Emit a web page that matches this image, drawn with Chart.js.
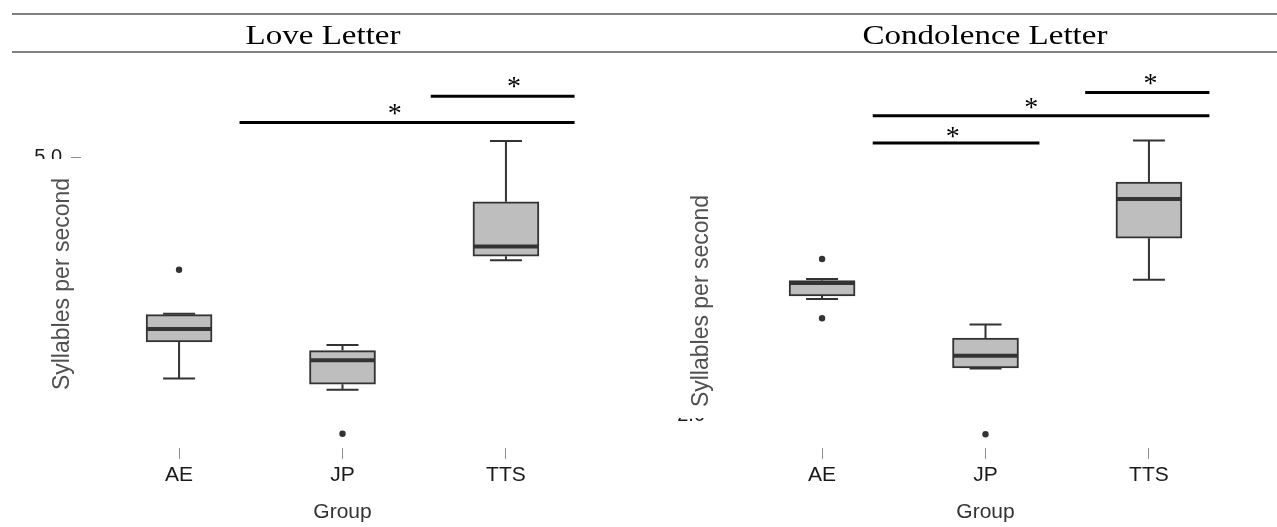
<!DOCTYPE html>
<html>
<head>
<meta charset="utf-8">
<script src="https://cdn.jsdelivr.net/npm/chart.js@4.4.0/dist/chart.umd.min.js"></script>
<style>
  html, body { margin: 0; padding: 0; background: #fff; overflow: hidden; }
  #page { position: relative; width: 1277px; height: 527px; overflow: hidden; }
  canvas { position: absolute; top: 0; }
  .rule { position: absolute; left: 12px; right: 0; height: 2px; background: #808080; }
  .panelTitle {
    position: absolute; top: 21px; transform: translateX(-50%) scaleX(1.18); white-space: nowrap;
    font-family: "Liberation Serif", "Times New Roman", serif; font-size: 28px; line-height: 28px; color: #000;
  }
</style>
</head>
<body>
<div id="page">
  <canvas id="chartLove" width="640" height="527" style="left:0"></canvas>
  <canvas id="chartCondolence" width="640" height="527" style="left:643px"></canvas>
  <div class="rule" style="top:13px"></div>
  <div class="rule" style="top:51px"></div>
  <div class="panelTitle" style="left:323px">Love Letter</div>
  <div class="panelTitle" style="left:985px">Condolence Letter</div>
</div>
<script>
const groups = ["AE", "JP", "TTS"];
const yTicks = [2, 5];
const yTitle = "Syllables per second";
const xTitle = "Group";

// Love Letter - syllables per second (whisker low, Q1, median, Q3, whisker high)
const loveLow = [2.23, 2.09, 3.71];
const loveQ1 = [2.69, 2.16, 3.76];
const loveMedian = [2.85, 2.46, 3.88];
const loveQ3 = [3.03, 2.58, 4.44];
const loveHigh = [3.04, 2.65, 5.20];
const loveOutlierGroup = [0, 1];
const loveOutlierValue = [3.59, 1.54];
// significance brackets (group units) and their stars
const loveSigFrom = [1.54, 0.37];
const loveSigTo = [2.42, 2.42];
const loveSigY = [5.76, 5.43];
const loveStarX = [2.05, 1.32];
const loveStarY = [5.93, 5.59];

// Condolence Letter
const condLow = [3.45, 2.58, 3.69];
const condQ1 = [3.49, 2.59, 4.21];
const condMedian = [3.65, 2.74, 4.70];
const condQ3 = [3.68, 2.96, 4.91];
const condHigh = [3.70, 3.13, 5.43];
const condOutlierGroup = [0, 0, 1];
const condOutlierValue = [3.95, 3.21, 1.76];
const condSigFrom = [1.61, 0.31, 0.31];
const condSigTo = [2.37, 2.37, 1.33];
const condSigY = [6.03, 5.74, 5.40];
const condStarX = [2.01, 1.28, 0.80];
const condStarY = [6.19, 5.89, 5.53];

const SANS = "'Liberation Sans', Arial, sans-serif";
const SERIF = "'Liberation Serif', 'Times New Roman', serif";
const INK = "#333333";

// whiskers, medians, brackets and the masked y title
function boxPlugin(d, look) {
  return {
    id: "boxExtras",
    beforeDatasetsDraw(chart) {
      const { ctx, scales: { x, y } } = chart;
      ctx.save();
      ctx.strokeStyle = INK;
      ctx.lineWidth = 2;
      groups.forEach((g, i) => {
        const px = x.getPixelForValue(i);
        ctx.beginPath();
        ctx.moveTo(px, y.getPixelForValue(d.high[i]));
        ctx.lineTo(px, y.getPixelForValue(d.q3[i]));
        ctx.moveTo(px, y.getPixelForValue(d.q1[i]));
        ctx.lineTo(px, y.getPixelForValue(d.low[i]));
        ctx.moveTo(px - 16, y.getPixelForValue(d.high[i]));
        ctx.lineTo(px + 16, y.getPixelForValue(d.high[i]));
        ctx.moveTo(px - 16, y.getPixelForValue(d.low[i]));
        ctx.lineTo(px + 16, y.getPixelForValue(d.low[i]));
        ctx.stroke();
      });
      ctx.restore();
    },
    afterDatasetsDraw(chart) {
      const { ctx, scales: { x, y } } = chart;
      ctx.save();
      // medians
      ctx.strokeStyle = INK;
      ctx.lineWidth = 4;
      groups.forEach((g, i) => {
        const px = x.getPixelForValue(i);
        const py = y.getPixelForValue(d.median[i]);
        ctx.beginPath();
        ctx.moveTo(px - 32, py);
        ctx.lineTo(px + 32, py);
        ctx.stroke();
      });
      // significance lines
      ctx.strokeStyle = "#000";
      ctx.lineWidth = 3;
      d.sigFrom.forEach((from, i) => {
        const py = y.getPixelForValue(d.sigY[i]);
        ctx.beginPath();
        ctx.moveTo(x.getPixelForValue(from), py);
        ctx.lineTo(x.getPixelForValue(d.sigTo[i]), py);
        ctx.stroke();
      });
      ctx.fillStyle = "#000";
      ctx.font = "28px " + SERIF;
      ctx.textAlign = "center";
      ctx.textBaseline = "middle";
      d.starX.forEach((sx, i) => {
        ctx.fillText("*", x.getPixelForValue(sx), y.getPixelForValue(d.starY[i]) + 5);
      });
      ctx.restore();
    },
    afterDraw(chart) {
      const ctx = chart.ctx;
      ctx.save();
      ctx.fillStyle = "#fff";
      ctx.fillRect(look.mask[0], look.mask[1], look.mask[2], look.mask[3]);
      ctx.translate(look.titleX, look.titleY);
      ctx.rotate(-Math.PI / 2);
      ctx.font = "23px " + SANS;
      ctx.fillStyle = "#505050";
      ctx.textAlign = "center";
      ctx.textBaseline = "middle";
      ctx.fillText(yTitle, 0, 0);
      ctx.restore();
    }
  };
}

function makeBoxChart(canvasId, d, look) {
  const ctx = document.getElementById(canvasId).getContext("2d");
  return new Chart(ctx, {
    type: "bar",
    data: {
      datasets: [
        {
          type: "bar",
          data: groups.map((g, i) => ({ x: i, y: [d.q1[i], d.q3[i]] })),
          backgroundColor: "#bebebe",
          borderColor: INK,
          borderWidth: 2,
          borderSkipped: false,
          barThickness: 66
        },
        {
          type: "scatter",
          data: d.outGroup.map((g, i) => ({ x: g, y: d.outValue[i] })),
          pointRadius: 3.2,
          pointBackgroundColor: INK,
          pointBorderWidth: 0
        }
      ]
    },
    options: {
      responsive: false,
      animation: false,
      devicePixelRatio: 1,
      layout: { padding: { top: 60, right: 36, bottom: 0, left: 0 } },
      plugins: { legend: { display: false }, tooltip: { enabled: false } },
      scales: {
        x: {
          type: "linear",
          min: -0.6,
          max: 2.6,
          offset: false,
          afterBuildTicks: s => { s.ticks = groups.map((g, i) => ({ value: i })); },
          afterFit: s => { s.height = 79; },
          grid: { offset: false, drawOnChartArea: false, tickLength: 11, color: "#8c8c8c", lineWidth: 1 },
          border: { display: false },
          ticks: {
            callback: v => groups[v],
            padding: 4,
            maxRotation: 0,
            autoSkip: false,
            color: "#1a1a1a",
            font: { family: SANS, size: 21 }
          },
          title: {
            display: true,
            text: xTitle,
            color: "#333",
            font: { family: SANS, size: 21 },
            padding: { top: 0, bottom: 2 }
          }
        },
        y: {
          min: look.yMin,
          max: look.yMax,
          afterBuildTicks: s => { s.ticks = yTicks.map(v => ({ value: v })); },
          afterFit: s => { s.width = 81; },
          grid: { drawOnChartArea: false, tickLength: 10, color: "#8c8c8c", lineWidth: 1 },
          border: { display: false },
          ticks: {
            callback: v => v.toFixed(1),
            padding: 9,
            color: "#1a1a1a",
            font: { family: SANS, size: 20 }
          }
        }
      }
    },
    plugins: [boxPlugin(d, look)]
  });
}

makeBoxChart("chartLove", {
  low: loveLow, q1: loveQ1, median: loveMedian, q3: loveQ3, high: loveHigh,
  outGroup: loveOutlierGroup, outValue: loveOutlierValue,
  sigFrom: loveSigFrom, sigTo: loveSigTo, sigY: loveSigY, starX: loveStarX, starY: loveStarY
}, { yMin: 1.3625, yMax: 6.2125, mask: [20, 159, 66, 245], titleX: 63, titleY: 284 });

makeBoxChart("chartCondolence", {
  low: condLow, q1: condQ1, median: condMedian, q3: condQ3, high: condHigh,
  outGroup: condOutlierGroup, outValue: condOutlierValue,
  sigFrom: condSigFrom, sigTo: condSigTo, sigY: condSigY, starX: condStarX, starY: condStarY
}, { yMin: 1.5875, yMax: 6.4375, mask: [17, 150, 70, 268], titleX: 59, titleY: 301 });
</script>
</body>
</html>
